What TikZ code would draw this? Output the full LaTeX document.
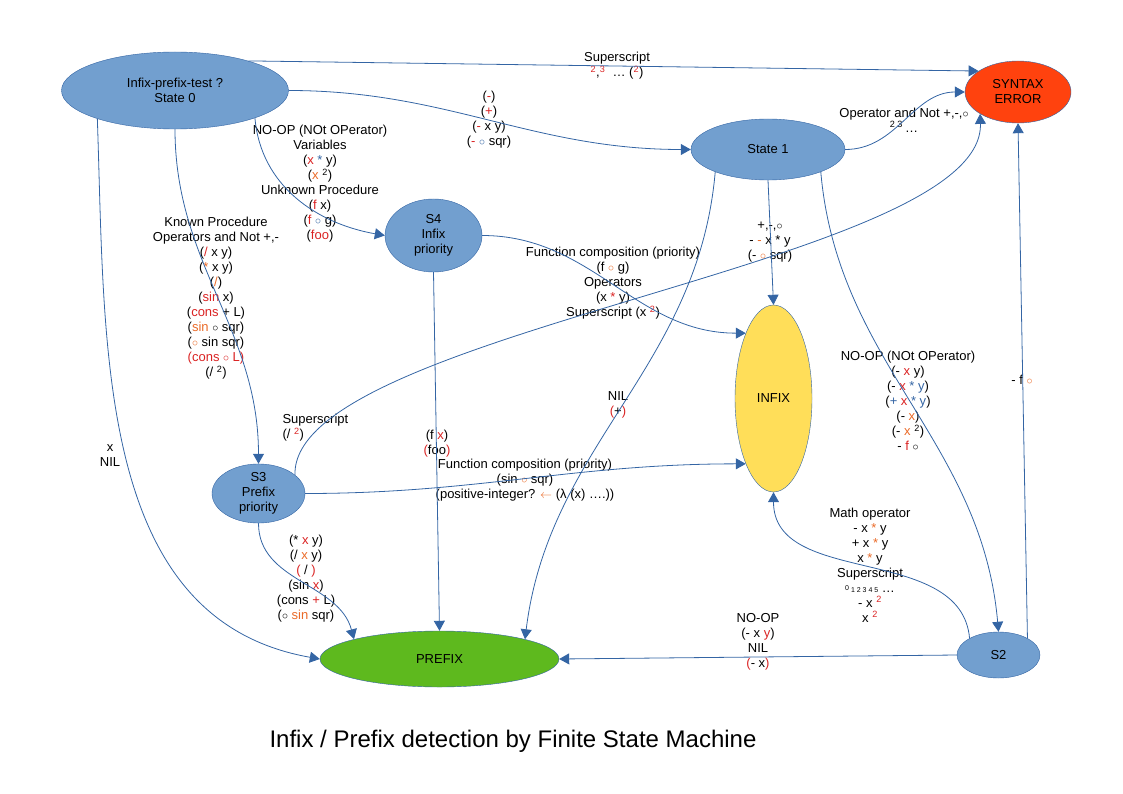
\documentclass[tikz,border=0pt]{standalone}
\usepackage{fontspec}
\setmainfont{Liberation Sans}
\usetikzlibrary{arrows.meta,shapes.geometric}

\definecolor{stateblue}{HTML}{729FCF}
\definecolor{lineblue}{HTML}{3465A4}
\definecolor{errred}{HTML}{FF420E}
\definecolor{infixyellow}{HTML}{FFDE59}
\definecolor{prefixgreen}{HTML}{5EB91E}
\definecolor{txtred}{RGB}{218,35,35}
\definecolor{txtorange}{RGB}{234,106,40}
\definecolor{txtblue}{HTML}{3465A4}

\newcommand{\redtxt}[1]{\textcolor{txtred}{#1}}
\newcommand{\orgtxt}[1]{\textcolor{txtorange}{#1}}
\newcommand{\blutxt}[1]{\textcolor{txtblue}{#1}}
\newcommand{\sups}[1]{\textsuperscript{#1}}
\newcommand{\compo}{\ensuremath{\circ}}

\begin{document}
\begin{tikzpicture}[
        x=1pt, y=1pt,
        every node/.style={font=\fontsize{13}{15}\selectfont, align=center},
        state/.style={ellipse, draw=lineblue, fill=stateblue, inner sep=0pt},
        arrow/.style={-{Triangle[length=10pt,width=11pt]}, draw=lineblue, line width=0.8pt}
    ]
    \useasboundingbox (0,0) rectangle (1123,-794);
    % Nodes
    \node[state, minimum width=227pt, minimum height=77pt] (state0) at (175,-90.5) {Infix-prefix-test ?\\State 0};
    \node[state, fill=errred, minimum width=106pt, minimum height=62pt] (syntax) at (1018,-92) {SYNTAX\\ERROR};
    \node[state, minimum width=154pt, minimum height=61pt] (state1) at (768,-149.5) {State 1};
    \node[state, minimum width=97pt, minimum height=73pt] (s4) at (433.5,-235.5) {S4\\Infix\\priority};
    \node[state, fill=infixyellow, minimum width=77pt, minimum height=187pt] (infix) at (773.5,-398.5) {INFIX};
    \node[state, minimum width=93pt, minimum height=51pt] (s3) at (258.5,-493.5) {S3\\Prefix\\priority};
    \node[state, fill=prefixgreen, minimum width=239pt, minimum height=56pt] (prefix) at (439.5,-659) {PREFIX};
    \node[state, minimum width=83pt, minimum height=46pt] (s2) at (998.5,-655) {S2};
    % Labels
    \node (lab_sup) at (617,-65.5) {Superscript\\\redtxt{\sups{2}},\redtxt{\sups{3}}\ \ \ldots\ (\redtxt{\sups{2}})};
    \node (lab_s0s1) at (489,-119.5) {(\redtxt{-})\\(\redtxt{+})\\(\redtxt{-} x y)\\(\redtxt{-} \blutxt{\compo} sqr)};
    \node (lab_s0s4) at (320,-183.5) {NO-OP (NOt OPerator)\\Variables\\(\redtxt{x} \blutxt{*} y)\\(\orgtxt{x} \sups{2})\\Unknown Procedure\\(\redtxt{f} x)\\(\redtxt{f} \blutxt{\compo} g)\\(\redtxt{foo})};
    \node (lab_s0s3) at (216,-298) {Known Procedure\\Operators and Not +,-\\(\redtxt{/} x y)\\(\orgtxt{*} x y)\\(\orgtxt{/})\\(\redtxt{sin} x)\\(\redtxt{cons} + L)\\(\orgtxt{sin} \compo{} sqr)\\(\orgtxt{\compo} sin sqr)\\\redtxt{(cons \compo{} L)}\\(/ \sups{2})};
    \node (lab_s0pre) at (110,-455.5) {x\\NIL};
    \node (lab_s1syn) at (904,-120) {Operator and Not +,-,\compo\\\sups{2 3}\,\ldots};
    \node (lab_s1inf) at (770,-242) {+,-,\compo\\- \orgtxt{-} x * y\\(- \orgtxt{\compo} sqr)};
    \node (lab_s1pre) at (618,-404.5) {NIL\\\redtxt{(}+\redtxt{)}};
    \node (lab_s1s2) at (908,-401) {NO-OP (NOt OPerator)\\(- \redtxt{x} y)\\(- \redtxt{x} \blutxt{* y})\\(\blutxt{+} \redtxt{x} \blutxt{* y})\\(- \orgtxt{x})\\(- \orgtxt{x} \sups{2})\\- \redtxt{f} \compo};
    \node (lab_s4inf) at (613,-283.5) {Function composition (priority)\\(f \orgtxt{\compo} g)\\Operators\\(x \redtxt{*} y)\\Superscript (x \redtxt{\sups{2}})};
    \node (lab_s4pre) at (437,-443.5) {(f \redtxt{x})\\\redtxt{(}foo\redtxt{)}};
    \node[anchor=west, align=left] (lab_s3syn) at (279,-427.5) {Superscript\\(/ \redtxt{\sups{2}})};
    \node (lab_s3inf) at (525,-480) {Function composition (priority)\\(sin \orgtxt{\compo} sqr)\\(positive-integer? \orgtxt{$\leftarrow$} (λ (x) \ldots.))};
    \node (lab_s3pre) at (306,-579) {(* \redtxt{x} y)\\(/ \orgtxt{x} y)\\\redtxt{(} / \redtxt{)}\\(sin \redtxt{x})\\(cons \redtxt{+} L)\\(\compo{} \orgtxt{sin} sqr)};
    \node (lab_s2inf) at (870,-565) {Math operator\\- x \orgtxt{*} y\\+ x \orgtxt{*} y\\x \orgtxt{*} y\\Superscript\\{\scriptsize\raisebox{2pt}{0} 1 2 3 4 5} \ldots\\- x \redtxt{\sups{2}}\\x \redtxt{\sups{2}}};
    \node (lab_s2pre) at (758,-641.5) {NO-OP\\(- x \redtxt{y})\\NIL\\\redtxt{(}- x\redtxt{)}};
    \node (lab_s2syn) at (1022,-380) {- f \orgtxt{\compo}};
    \node[font=\fontsize{24}{28}\selectfont] (title) at (513,-741) {Infix / Prefix detection by Finite State Machine};
    % Arrows
    \draw[arrow] (state0.22) -- (syntax.152);
    \draw[arrow] (state0.east) to[out=0,in=180] (state1.west);
    \draw[arrow] (state0.-19) to[out=-85,in=170] (s4.west);
    \draw[arrow] (state0.south) to[out=-90,in=90] (s3.north);
    \draw[arrow] (state0.200) to[out=-88,in=170] (prefix.west);
    \draw[arrow] (state1.east) to[out=0,in=180] (syntax.west);
    \draw[arrow] (state1.south) -- (infix.north);
    \draw[arrow] (state1.203) to[out=-95,in=83] (prefix.13);
    \draw[arrow] (state1.-23) to[out=-85,in=95] (s2.north);
    \draw[arrow] (s4.east) to[out=0,in=180] (infix.113);
    \draw[arrow] (s4.south) -- (prefix.north);
    \draw[arrow] (s3.27) .. controls (291,-330) and (985,-265) .. (syntax.210);
    \draw[arrow] (s3.east) to[out=0,in=180] (infix.247);
    \draw[arrow] (s3.south) to[out=-90,in=105] (prefix.167);
    \draw[arrow] (s2.150) to[out=95,in=-90] (infix.south);
    \draw[arrow] (s2.west) -- (prefix.east);
    \draw[arrow] (s2.30) -- (syntax.south);
\end{tikzpicture}
\end{document}
